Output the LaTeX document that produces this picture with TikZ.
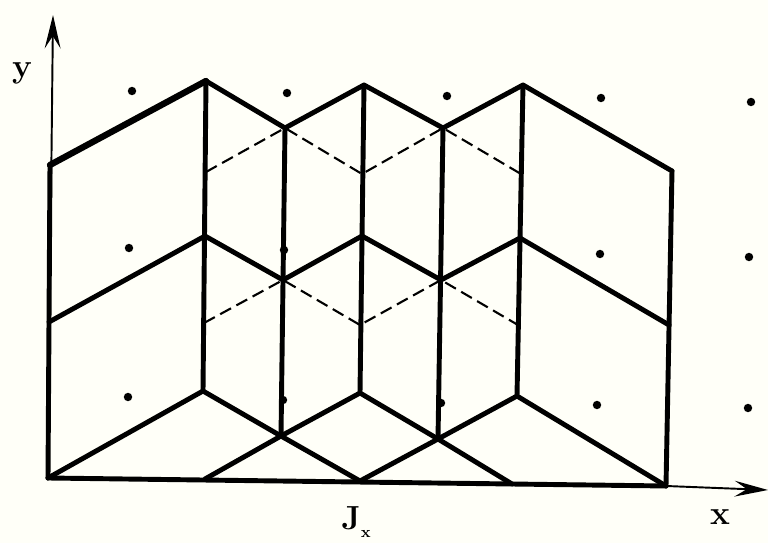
\documentclass[tikz,border=0pt]{standalone}
\usepackage{tikz}
\usetikzlibrary{arrows.meta,calc,positioning}
\definecolor{paper}{rgb}{1,1,0.973}
\tikzset{
  edge/.style={line width=2.8pt,line cap=round,line join=round},
  hidden/.style={line width=1.2pt,dash pattern=on 7pt off 3.5pt},
  axis/.style={line width=1.1pt,-{Stealth[length=19pt,width=9pt,inset=7pt]}},
  site/.style={circle,fill=black,inner sep=0pt,minimum size=4.8pt},
  lbl/.style={inner sep=0pt,font=\bfseries\fontsize{19}{19}\selectfont}
}
\begin{document}
\begin{tikzpicture}[x=0.02cm,y=-0.02cm]
          % background
          \fill[paper] (0,0) rectangle (768,543);
          \useasboundingbox (0,0) rectangle (768,543);
          % vertices
          \coordinate (t0) at (50,165);
          \coordinate (t1) at (206,81);
          \coordinate (t2) at (285,128);
          \coordinate (t3) at (364,85);
          \coordinate (t4) at (443,128);
          \coordinate (t5) at (523,85);
          \coordinate (t6) at (672,171);
          \coordinate (d1) at (206,172);
          \coordinate (d3) at (362,174);
          \coordinate (d5) at (521,174);
          \coordinate (m0) at (49,322);
          \coordinate (m1) at (205,236);
          \coordinate (m2) at (283,280);
          \coordinate (m3) at (362,236);
          \coordinate (m4) at (441,280);
          \coordinate (m5) at (520,238);
          \coordinate (m6) at (669,325);
          \coordinate (e1) at (204,323);
          \coordinate (e3) at (360,325);
          \coordinate (e5) at (518,325);
          \coordinate (b1) at (203,391);
          \coordinate (b2) at (281,436);
          \coordinate (b3) at (360,393);
          \coordinate (b4) at (438,439);
          \coordinate (b5) at (517,396);
          \coordinate (o) at (48,478);
          \coordinate (f1) at (205,479);
          \coordinate (f2) at (360,481);
          \coordinate (f3) at (512,484);
          \coordinate (f4) at (666,486);
          % axes
          \draw[axis] (o) -- (53,15);
          \draw[axis] (f4) -- (768,490);
          % zigzag lines
          \draw[edge] (t0) -- (t1) -- (t2) -- (t3) -- (t4) -- (t5) -- (t6);
          \draw[edge,line width=3.6pt] (t0) -- (t1);
          \draw[edge] (m0) -- (m1) -- (m2) -- (m3) -- (m4) -- (m5) -- (m6);
          \draw[edge] (o) -- (b1) -- (b2) -- (f2) -- (b4) -- (f3);
          \draw[edge] (f1) -- (b2) -- (b3) -- (b4) -- (b5) -- (f4);
          % verticals
          \draw[edge] (t0) -- (o);
          \draw[edge] (t1) -- (b1);
          \draw[edge] (t2) -- (b2);
          \draw[edge] (t3) -- (b3);
          \draw[edge] (t4) -- (b4);
          \draw[edge] (t5) -- (b5);
          \draw[edge] (t6) -- (f4);
          % base
          \draw[edge] (o) -- (f4);
          % dashed lines
          \draw[hidden] (d1) -- (t2) -- (d3) -- (t4) -- (d5);
          \draw[hidden] (e1) -- (m2) -- (e3) -- (m4) -- (e5);
          % sites
          \foreach \px/\py [count=\i] in {132/91,287/93,447/96,601/98,751/102,
              129/248,284/250,600/254,749/257,
              128/397,283/400,441/403,597/405,748/408}
            \node[site] (s\i) at (\px,\py) {};
          % labels
          \node[lbl] (ylabel) at (22,73) {y};
          \node[lbl] (xlabel) at (720,517) {x};
          \node[lbl] (jlabel) at (356,522) {J\raisebox{-0.55ex}{\small x}};
        \end{tikzpicture}
\end{document}
